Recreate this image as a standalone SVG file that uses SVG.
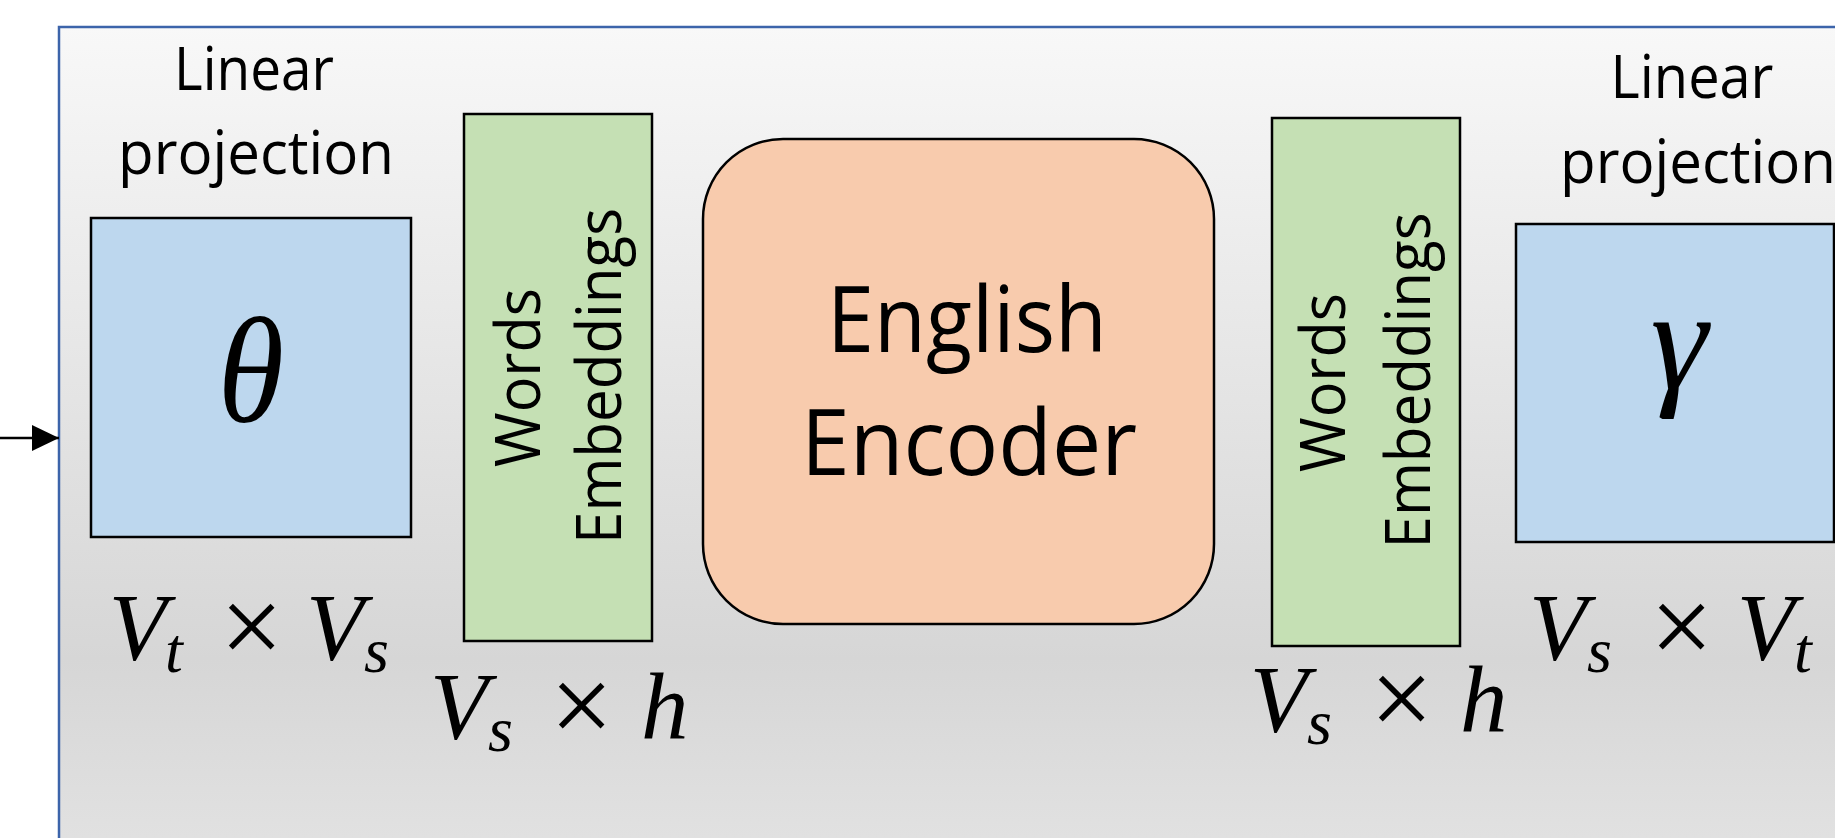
<svg xmlns="http://www.w3.org/2000/svg" width="1835" height="838" viewBox="0 0 1835 838">
<defs>
<linearGradient id="bg" gradientUnits="userSpaceOnUse" x1="0" y1="27" x2="0" y2="838">
<stop offset="0" stop-color="#f8f8f8"/>
<stop offset="0.78" stop-color="#d6d6d6"/>
<stop offset="1" stop-color="#e1e1e1"/>
</linearGradient>
<marker id="ah" markerUnits="userSpaceOnUse" markerWidth="28" markerHeight="26" refX="27" refY="13" orient="auto">
<path d="M0,0 L27,13 L0,26 Z" fill="#000"/>
</marker>
<style>
.lbl{font-family:"Open Sans","Noto Sans",sans-serif;font-size:60px;fill:#000}
.big{font-family:"Open Sans","Noto Sans",sans-serif;font-size:92px;fill:#000}
.rot{font-family:"Open Sans","Noto Sans",sans-serif;font-size:62px;fill:#000}
.m{font-family:"Liberation Serif","DejaVu Serif",serif;font-style:italic;font-size:95px;fill:#000}
.sub{font-family:"Liberation Serif","DejaVu Serif",serif;font-style:italic;font-size:64px;fill:#000}
.x{font-family:"Liberation Serif","DejaVu Serif",serif;font-style:normal;font-size:112px;fill:#000}
.g{font-family:"Liberation Serif","DejaVu Serif",serif;font-style:italic;fill:#000}
.proj{fill:#BDD7EE;stroke:#000;stroke-width:2.5}
.emb{fill:#C5E0B4;stroke:#000;stroke-width:2.5}
.enc{fill:#F8CBAD;stroke:#000;stroke-width:2.5}
</style>
</defs>
<g id="frame">
<rect x="59" y="27" width="1900" height="900" fill="url(#bg)" stroke="#3C64AA" stroke-width="2.5"/>
</g>
<g id="connectors">
<line x1="0" y1="438" x2="59" y2="438" stroke="#000" stroke-width="2.5" marker-end="url(#ah)"/>
</g>
<g id="proj-left">
<text class="lbl" x="254" y="90" text-anchor="middle" textLength="160" lengthAdjust="spacingAndGlyphs">Linear</text>
<text class="lbl" x="256" y="174" text-anchor="middle" textLength="276" lengthAdjust="spacingAndGlyphs">projection</text>
<rect class="proj" x="91" y="218" width="320" height="319"/>
<text class="g" x="251" y="422" font-size="150" text-anchor="middle" transform="translate(251,0) scale(0.9,1) translate(-251,0)">θ</text>
<text class="m" x="108.8" y="660">V</text><text class="sub" x="165" y="672">t</text><text class="x" x="220" y="664">×</text><text class="m" x="306" y="660">V</text><text class="sub" x="364" y="672">s</text>
</g>
<g id="emb-left">
<rect class="emb" x="464" y="114" width="188" height="527"/>
<text class="rot" transform="translate(540,377.5) rotate(-90)" text-anchor="middle" textLength="179" lengthAdjust="spacingAndGlyphs">Words</text>
<text class="rot" transform="translate(621,376) rotate(-90)" text-anchor="middle" textLength="336" lengthAdjust="spacingAndGlyphs">Embeddings</text>
<text class="m" x="430" y="739">V</text><text class="sub" x="488" y="751">s</text><text class="x" x="550" y="743">×</text><text class="m" x="641" y="739">h</text>
</g>
<g id="encoder">
<rect class="enc" x="703" y="139" width="511" height="485" rx="80" ry="80"/>
<text class="big" x="967" y="352" text-anchor="middle" textLength="280" lengthAdjust="spacingAndGlyphs">English</text>
<text class="big" x="969" y="475" text-anchor="middle" textLength="336" lengthAdjust="spacingAndGlyphs">Encoder</text>
</g>
<g id="emb-right">
<rect class="emb" x="1272" y="118" width="188" height="528"/>
<text class="rot" transform="translate(1345,382.5) rotate(-90)" text-anchor="middle" textLength="179" lengthAdjust="spacingAndGlyphs">Words</text>
<text class="rot" transform="translate(1430,380.5) rotate(-90)" text-anchor="middle" textLength="336" lengthAdjust="spacingAndGlyphs">Embeddings</text>
<text class="m" x="1249.7" y="732">V</text><text class="sub" x="1307" y="744">s</text><text class="x" x="1370" y="736">×</text><text class="m" x="1460" y="732">h</text>
</g>
<g id="proj-right">
<text class="lbl" x="1692" y="98" text-anchor="middle" textLength="163" lengthAdjust="spacingAndGlyphs">Linear</text>
<text class="lbl" x="1560" y="183" textLength="276" lengthAdjust="spacingAndGlyphs">projection</text>
<rect class="proj" x="1516" y="224" width="318" height="318"/>
<text class="g" x="1679" y="388" font-size="145" text-anchor="middle">γ</text>
<text class="m" x="1529" y="660">V</text><text class="sub" x="1587" y="672">s</text><text class="x" x="1650" y="664">×</text><text class="m" x="1736.8" y="660">V</text><text class="sub" x="1794" y="672">t</text>
</g>
</svg>
